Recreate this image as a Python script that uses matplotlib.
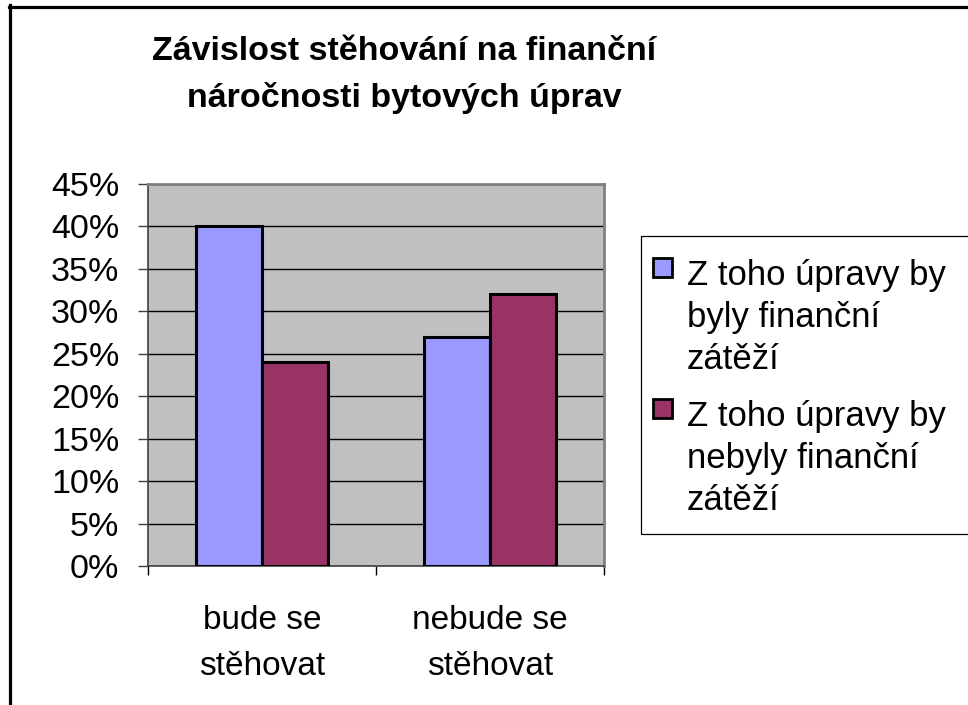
import numpy as np
import matplotlib
matplotlib.use("Agg")
import matplotlib.pyplot as plt
from matplotlib.lines import Line2D
from matplotlib.patches import Rectangle
from matplotlib.ticker import FuncFormatter

# data
categories = ["bude se\nstěhovat", "nebude se\nstěhovat"]
series_labels = ["Z toho úpravy by\nbyly finanční\nzátěží",
                 "Z toho úpravy by\nnebyly finanční\nzátěží"]
burden_yes = [40, 27]   # upravy by byly financni zatezi
burden_no = [24, 32]    # upravy by nebyly financni zatezi
y_ticks = [0, 5, 10, 15, 20, 25, 30, 35, 40, 45]
title = "Závislost stěhování na finanční\nnáročnosti bytových úprav"

colors = ["#9999FF", "#993366"]

plt.rcParams['font.family'] = ['Liberation Sans', 'DejaVu Sans']

W, H = 968, 705
fig = plt.figure(figsize=(W / 100, H / 100), dpi=100)


def px(x, y):
    # pixel position (from top-left) -> figure fraction
    return x / W, 1 - y / H


# outer chart border (only top and left edge are inside the crop)
fig.add_artist(Line2D([9 / W, 1], [1 - 6.5 / H] * 2, color='black', lw=2.3))
fig.add_artist(Line2D([10 / W] * 2, [0, 1 - 5 / H], color='black', lw=2.3))

# plot area
ax = fig.add_axes([148 / W, 1 - 566 / H, (604 - 148) / W, (566 - 184) / H])
ax.set_facecolor('#C0C0C0')

x = np.arange(len(categories))
w = 0.29
ax.bar(x - w / 2, burden_yes, w, color=colors[0], edgecolor='black',
       linewidth=2.2, zorder=3)
ax.bar(x + w / 2, burden_no, w, color=colors[1], edgecolor='black',
       linewidth=2.2, zorder=3)

ax.set_xlim(-0.5, len(categories) - 0.5)
ax.set_ylim(0, 45)
ax.set_yticks(y_ticks)
ax.yaxis.set_major_formatter(FuncFormatter(lambda v, p: f"{v:.0f}%"))
ax.yaxis.grid(True, color='black', linewidth=1)
ax.set_axisbelow(True)

# category boundaries as major ticks, names on minor ticks
ax.set_xticks(np.arange(len(categories) + 1) - 0.5)
ax.set_xticklabels([])
ax.set_xticks(x, minor=True)
ax.set_xticklabels(categories, minor=True, fontsize=24, linespacing=1.64)
ax.tick_params(axis='x', which='minor', length=0, pad=28)
ax.tick_params(axis='x', which='major', direction='out', length=6.5,
               width=1, color='black')
ax.tick_params(axis='y', direction='out', length=7.2, width=1,
               color='#404040', labelsize=24.5, pad=13.5)

for side in ['top', 'right']:
    ax.spines[side].set_color('#808080')
    ax.spines[side].set_linewidth(2)
for side in ['left', 'bottom']:
    ax.spines[side].set_color('#404040')
    ax.spines[side].set_linewidth(1.2)

# title
fig.text(404 / W, 1 - 36 / H, title, ha='center', va='top',
         fontsize=24.5, fontweight='bold', linespacing=1.62)

# legend box drawn by hand so the swatch sits on the first text line
x0, y0 = px(641, 236)
x1, y1 = px(1000, 534)
fig.add_artist(Rectangle((x0, y1), x1 - x0, y0 - y1, transform=fig.transFigure,
                         facecolor='white', edgecolor='black', lw=0.9,
                         clip_on=False))
entry_step = 141
for i, (lab, col) in enumerate(zip(series_labels, colors)):
    top = 258 + i * entry_step
    sx, sy = px(653, top + 19)
    fig.add_artist(Rectangle((sx, sy), 19 / W, 19 / H,
                             transform=fig.transFigure, facecolor=col,
                             edgecolor='black', lw=2))
    tx, ty = px(687, top + 1)
    fig.text(tx, ty, lab, ha='left', va='top', fontsize=25, linespacing=1.35)

fig.savefig("out.png", dpi=100)
